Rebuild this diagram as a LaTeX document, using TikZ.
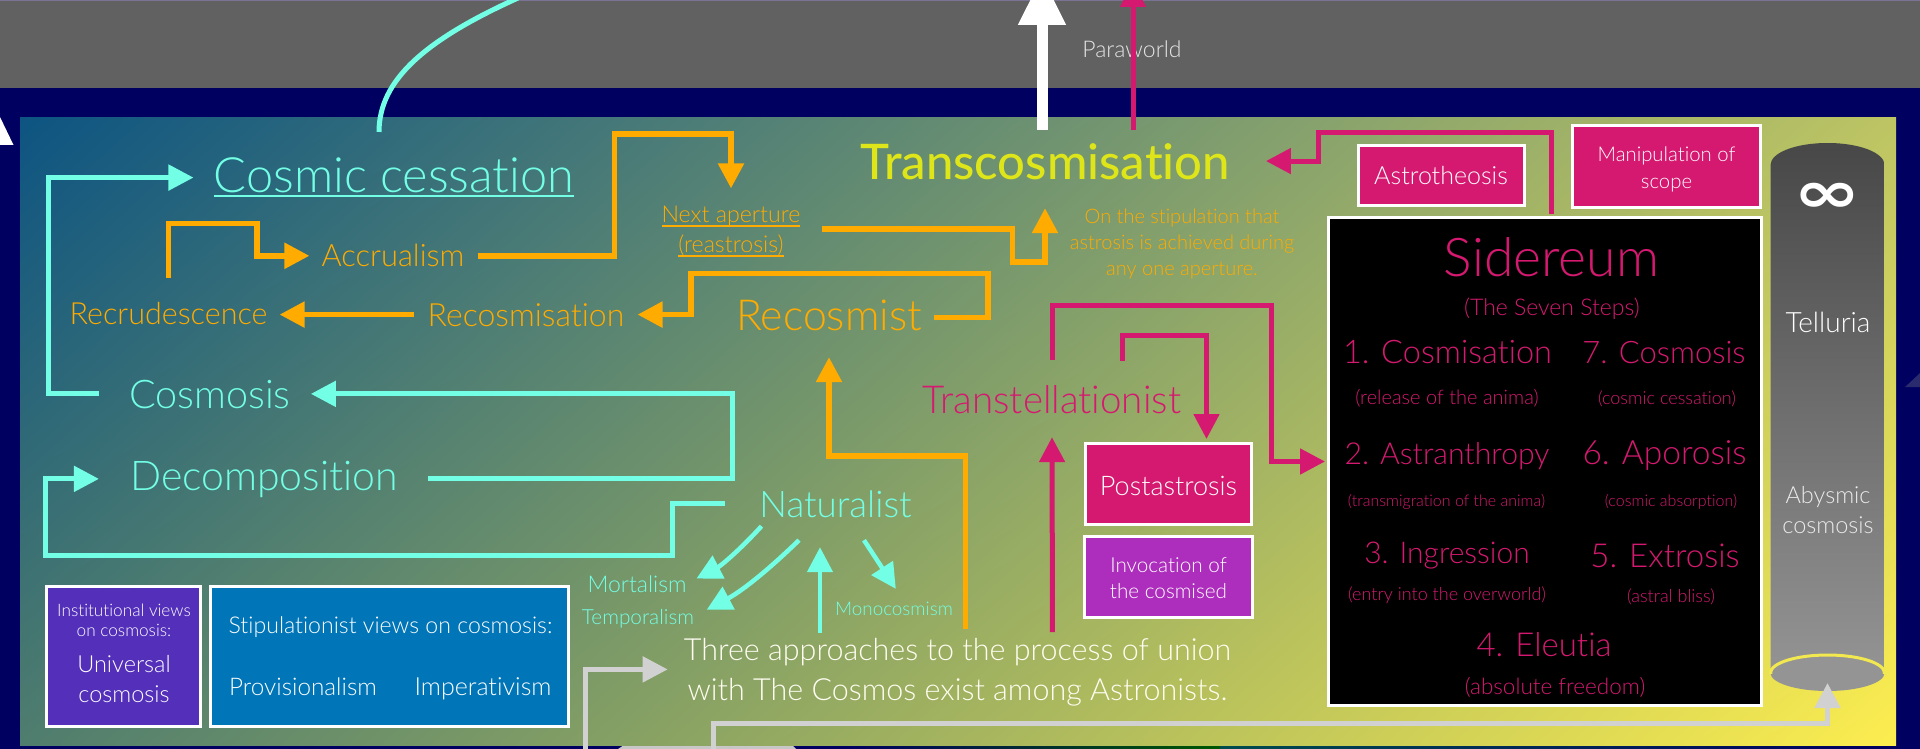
\documentclass[tikz,border=0pt]{standalone}
\usepackage{fontspec}
\usepackage{tikz}
\usetikzlibrary{arrows.meta}
\usetikzlibrary{shadings}
\setmainfont{Lato}[UprightFont=* Light, BoldFont=* Medium, Ligatures=NoCommon]
\newfontfamily\symfont{DejaVu Sans}[FakeStretch=1.4]
\newcommand{\fs}[2][60]{\fontsize{#2}{#1}\selectfont}
\newcommand{\uln}[2][1.5pt]{\setbox0=\hbox{#2}\dp0=0pt\vtop{\box0\kern 3pt\hrule height #1}}
\definecolor{mteal}{rgb}{0.45, 1, 0.9}
\definecolor{morange}{rgb}{1, 0.67, 0}
\definecolor{mpink}{rgb}{0.84, 0.1, 0.44}
\definecolor{mnavy}{rgb}{0, 0, 0.38}
\definecolor{mgrey}{rgb}{0.82, 0.82, 0.82}
\definecolor{myellow}{rgb}{0.95, 0.91, 0.31}
\definecolor{mlime}{rgb}{0.87, 0.9, 0.1}
\definecolor{mviolet}{rgb}{0.68, 0.18, 0.74}
\definecolor{mpurple}{rgb}{0.33, 0.19, 0.73}
\definecolor{mblue}{rgb}{0, 0.46, 0.72}
\definecolor{mlavender}{rgb}{0.48, 0.45, 0.58}
\definecolor{panelul}{rgb}{0.05, 0.33, 0.51}
\definecolor{panelur}{rgb}{0.74, 0.77, 0.39}
\definecolor{panelll}{rgb}{0.31, 0.49, 0.43}
\definecolor{panellr}{rgb}{0.99, 0.93, 0.31}
\tikzset{
  lbl/.style = {inner sep = 0, anchor = base, align = center, text depth = 0pt},
  tlbl/.style = {lbl, text = mteal},
  olbl/.style = {lbl, text = morange},
  plbl/.style = {lbl, text = mpink},
  wlbl/.style = {lbl, text = white},
  box/.style = {draw = white, line width = 3, inner sep = 0, align = center, text = white},
  head/.style = {-{Triangle[length = 25pt, width = 25pt]}},
  tarrow/.style = {head, draw = mteal, line width = 5},
  oarrow/.style = {head, draw = morange, line width = 5.5},
  parrow/.style = {head, draw = mpink, line width = 5},
  garrow/.style = {head, draw = mgrey, line width = 5}
}
\begin{document}
\begin{tikzpicture}[x = 1pt, y = -1pt]
  \useasboundingbox (0, 0) rectangle (1920, 749);
  \clip (0, 0) rectangle (1920, 749);

  % backdrop
  \fill [mnavy] (0, 0) rectangle (1920, 749);
  \fill [black!62] (0, 0) rectangle (1920, 88);
  \fill [mlavender] (0, 0) rectangle (1920, 1);
  \fill [white] (0, 117) -- (13.5, 145) -- (0, 145) -- cycle;
  \fill [blue!45!gray!60!black] (1905, 387) -- (1920, 373) -- (1920, 387) -- cycle;
  \shade [left color = mnavy, right color = green!35!black] (850, 745) rectangle (1220, 749);
  \shade [left color = cyan!30!black, right color = mnavy] (1220, 745) rectangle (1860, 749);
  \fill [black!22] (618, 749) -- (624, 745) -- (792, 745) -- (796, 749) -- cycle;
  \shade [upper left = panelul, upper right = panelur, lower left = panelll, lower right = panellr]
    (20, 118) rectangle (1896, 745);

  % telluria column
  \shade [top color = black!72, bottom color = black!42]
    (1770.5, 673) -- (1770.5, 165) .. controls (1770.5, 153) and (1795, 143) .. (1827.5, 143)
    .. controls (1860, 143) and (1884.5, 153) .. (1884.5, 165) -- (1884.5, 673) -- cycle;
  \fill [black!42] (1827.5, 673) ellipse (57 and 18);
  \begin{scope}
    \clip (1760, 650) rectangle (1895, 673);
    \draw [myellow, line width = 3] (1827.5, 673) ellipse (57 and 18);
  \end{scope}
  \coordinate (abyss) at (1827.5, 683);
  \node [wlbl, font = {\symfont\bfseries\fs{58}}] (infty) at (1827.5, 212) {∞};
  \node [wlbl, font = \fs{28}] (telluria) at (1828, 332) {Telluria};
  \node [wlbl, text = white!92!black, font = {\fs[30]{23.5}}] (abysmic) at (1828, 533) {Abysmic\\cosmosis};

  % teal side
  \node [tlbl, font = \fs{48.7}] (cessation) at (394, 192) {\uln[2.5pt]{Cosmic cessation}};
  \node [tlbl, font = \fs{39.5}] (cosmosis) at (210, 408) {Cosmosis};
  \node [tlbl, font = \fs{41}] (decomp) at (264, 490.5) {Decomposition};
  \node [tlbl, font = \fs{36.7}] (naturalist) at (835.5, 517) {Naturalist};
  \node [tlbl, font = \fs{23}] (mortalism) at (637, 592) {Mortalism};
  \node [tlbl, font = \fs{20.8}] (temporalism) at (638, 624) {Temporalism};
  \node [tlbl, font = \fs{18.8}] (monocosmism) at (894, 615) {Monocosmism};

  % orange side
  \node [olbl, font = \fs{30.8}] (accrualism) at (393, 266) {Accrualism};
  \node [olbl, font = \fs{30.5}] (recrudescence) at (168.5, 324) {Recrudescence};
  \node [olbl, font = \fs{32}] (recosmisation) at (526, 326) {Recosmisation};
  \node [olbl, font = \fs{42.8}] (recosmist) at (829, 330) {Recosmist};
  \node [olbl, font = {\fs[30]{23.2}}] (aperture) at (731, 252) {\uln{Next aperture}\\\uln{(reastrosis)}};
  \node [olbl, font = {\fs[26]{20}}] (stipulation) at (1182, 275)
    {On the stipulation that\\astrosis is achieved during\\any one aperture.};

  % top and middle
  \node [lbl, text = white!90!black, font = \fs{23}] (paraworld) at (1132, 58) {Paraworld};
  \node [lbl, text = mlime, font = {\bfseries\fs{49}}] (transcos) at (1045, 179) {Transcosmisation};
  \node [plbl, font = \fs{38.5}] (transtell) at (1052, 413) {Transtellationist};
  \node [wlbl, text = white!95!yellow, font = {\fs[40]{30.5}}] (three) at (957.5, 700.5)
    {Three approaches to the process of union\\with The Cosmos exist among Astronists.};

  % boxes
  \node [box, fill = mpink, minimum width = 166, minimum height = 81] (postastrosis) at (1168.5, 484) {};
  \node [wlbl, font = \fs{27}] (posttext) at (1168.5, 495) {Postastrosis};
  \node [box, fill = mviolet, minimum width = 168, minimum height = 81] (invocation) at (1168.5, 577) {};
  \node [wlbl, font = {\fs[26]{20.7}}] (invotext) at (1168.5, 598) {Invocation of\\the cosmised};
  \node [box, fill = mpink, minimum width = 166, minimum height = 60, font = \fs{25}] (astrotheosis) at (1441, 175.5) {Astrotheosis};
  \node [box, fill = mpink, minimum width = 188, minimum height = 82] (manipulation) at (1666.5, 166.5) {};
  \node [wlbl, font = {\fs[26]{20.3}}] (maniptext) at (1666.5, 188) {Manipulation of\\scope};
  \node [box, fill = mpurple, minimum width = 154, minimum height = 140] (institutional) at (123.5, 656.5) {};
  \node [wlbl, font = {\fs[20]{17.2}}] (instviews) at (124, 636) {Institutional views\\on cosmosis:};
  \node [wlbl, font = {\fs[30]{23.5}}] (universal) at (124, 702) {Universal\\cosmosis};
  \node [box, fill = mblue, minimum width = 358, minimum height = 140] (stipbox) at (389, 656.5) {};
  \node [wlbl, font = \fs{23.1}] (stipviews) at (390.5, 633) {Stipulationist views on cosmosis:};
  \node [wlbl, font = \fs{24.3}] (provisional) at (303, 695) {Provisionalism};
  \node [wlbl, font = \fs{25}] (imperative) at (483, 695) {Imperativism};

  % sidereum
  \node [box, fill = black, minimum width = 433, minimum height = 488] (sidereum) at (1545, 461.5) {};
  \node [plbl, font = \fs{53.5}] (sidtitle) at (1551.5, 276) {Sidereum};
  \node [plbl, font = \fs{23}] (steps) at (1552, 315) {(The Seven Steps)};
  \node [plbl, font = \fs{32.5}] (stepone) at (1447.5, 363) {1. Cosmisation};
  \node [plbl, font = \fs{31}] (stepseven) at (1664, 363) {7. Cosmosis};
  \node [plbl, font = \fs{20}] (noteone) at (1447, 404) {(release of the anima)};
  \node [plbl, font = \fs{18}] (noteseven) at (1667, 404) {(cosmic cessation)};
  \node [plbl, font = \fs{30.2}] (steptwo) at (1447, 464) {2. Astranthropy};
  \node [plbl, font = \fs{33.5}] (stepsix) at (1664.5, 464) {6. Aporosis};
  \node [plbl, font = \fs{16}] (notetwo) at (1446.5, 506) {(transmigration of the anima)};
  \node [plbl, font = \fs{16}] (notesix) at (1671, 506) {(cosmic absorption)};
  \node [plbl, font = \fs{30}] (stepthree) at (1447, 563) {3. Ingression};
  \node [plbl, font = \fs{33}] (stepfive) at (1665, 567) {5. Extrosis};
  \node [plbl, font = \fs{18}] (notethree) at (1447, 600) {(entry into the overworld)};
  \node [plbl, font = \fs{18}] (notefive) at (1671, 602) {(astral bliss)};
  \node [plbl, font = \fs{33}] (stepfour) at (1544, 656) {4. Eleutia};
  \node [plbl, font = \fs{22.5}] (notefour) at (1555, 694) {(absolute freedom)};

  % free ends
  \coordinate (arcend) at (518, -2);
  \coordinate (whitetop) at (1042, -24);
  \coordinate (pinktop) at (1133, -18);
  \coordinate (greyin) at (585, 749);
  \coordinate (greyout) at (713, 749);

  % teal connectors
  \draw [draw = mteal, line width = 5, shorten <= 25pt] ([xshift = -15pt]cessation.north)
    .. controls (379, 80) and (425, 40) .. (arcend);
  \draw [tarrow, shorten <= 30pt, shorten >= 20pt] (cosmosis.west) -- ++(-81, 0) |- ([yshift = -3pt]cessation.west);
  \draw [tarrow, shorten <= 30pt, shorten >= 20pt] ([yshift = -3pt]decomp.east) -- ++(334, 0) |- (cosmosis.east);
  \draw [tarrow, shorten <= 34pt, shorten >= 31pt] (naturalist.west) -- ++(-87, 0) -- ++(0, 52) -| ([xshift = -84pt, yshift = -3pt]decomp.west) -- ([yshift = -3pt]decomp.west);
  \draw [tarrow, line width = 4.5, shorten >= 11pt] ([xshift = -74pt, yshift = -9pt]naturalist.south) to [bend left = 10] (mortalism.east);
  \draw [tarrow, line width = 4.5, shorten >= 14pt] ([xshift = -36.5pt, yshift = -23pt]naturalist.south) to [bend left = 8] (temporalism.east);
  \draw [tarrow, line width = 4.5, shorten <= 5pt, shorten >= 30pt] ([xshift = -137.5pt]three.north) -- ([xshift = -15.5pt]naturalist.south);
  \draw [tarrow, line width = 4.5, shorten >= 15pt] ([xshift = 28.5pt, yshift = -23pt]naturalist.south) -- ([xshift = 10pt]monocosmism.north);

  % orange connectors
  \draw [oarrow, shorten <= 24pt, shorten >= 12pt] (recrudescence.north) -- ++(0, -78) -- ++(88.5, 0) |- ([yshift = -1pt]accrualism.west);
  \draw [oarrow, shorten <= 13pt, shorten >= 17pt] ([yshift = -1pt]accrualism.east) -- ++(150, 0) -- ++(0, -122) -| (aperture.north);
  \draw [oarrow, shorten <= 21pt, shorten >= 29pt] (aperture.east) -- ++(212, 0) -- ++(0, 33) -| (transcos.south);
  \draw [oarrow, shorten <= 12pt, shorten >= 13pt] ([yshift = -3pt]recosmist.east) -- ++(66, 0) -- ++(0, -44) -- ++(-297, 0) |- (recosmisation.east);
  \draw [oarrow, shorten <= 13pt, shorten >= 12pt] (recosmisation.west) -- (recrudescence.east |- recosmisation.west);
  \draw [oarrow, shorten <= 9pt, shorten >= 27pt] ([xshift = 8pt]three.north) -- ++(0, -182) -| (recosmist.south);

  % pink connectors
  \draw [parrow, shorten <= 13pt] ([xshift = 88pt]transcos.north) -- (pinktop);
  \draw [parrow, shorten <= 2pt, shorten >= 36pt] ([xshift = 6pt]sidereum.north) -- ++(0, -83) -- ++(-233, 0) |- (transcos.east);
  \draw [parrow, shorten <= 25pt, shorten >= 2pt] (transtell.north) -- ++(0, -79) -- ++(219, 0) |- (sidereum.west);
  \draw [parrow, shorten >= 3pt] ([xshift = 70.5pt, yshift = 24pt]transtell.north) -- ++(0, -25) -| ([xshift = 38pt]postastrosis.north);
  \draw [parrow, shorten <= 6pt] ([xshift = 95pt]three.north) -- ([yshift = -24pt]transtell.south);

  % white and grey connectors
  \draw [-{Triangle[length = 49pt, width = 45pt]}, white, line width = 11, shorten <= 13pt] ([xshift = -3pt]transcos.north) -- (whitetop);
  \draw [garrow, shorten >= 16pt] (greyin) |- (three.west);
  \draw [garrow] (greyout) |- (1827.5, 723.5) -- (abyss);
\end{tikzpicture}
\end{document}
